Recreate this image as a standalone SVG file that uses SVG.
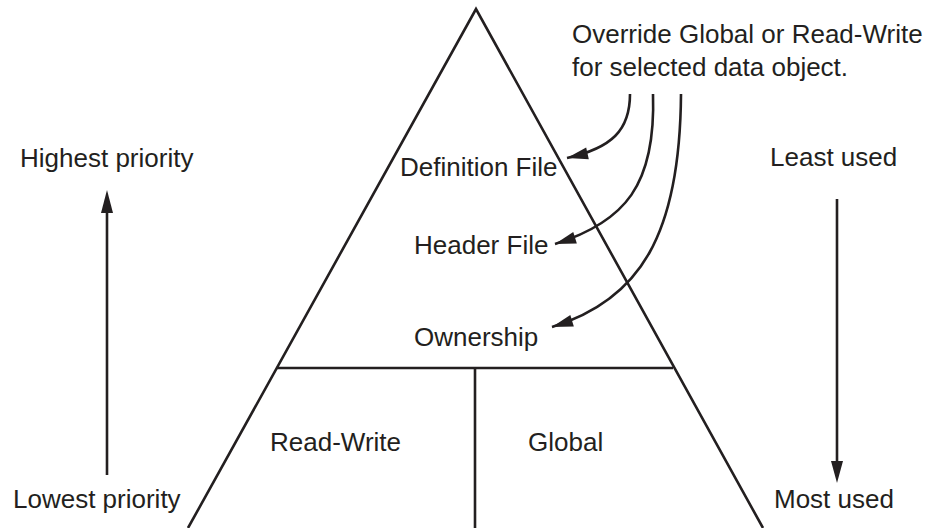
<svg xmlns="http://www.w3.org/2000/svg" width="937" height="528" viewBox="0 0 937 528">
<style>
text{font-family:"Liberation Sans",Arial,sans-serif;font-size:26px;fill:#231f20}
.ln{stroke:#231f20;stroke-width:2.6;fill:none}
.cv{stroke:#231f20;stroke-width:2.6;fill:none;marker-end:url(#ah)}
</style>
<defs>
<marker id="ah" markerUnits="userSpaceOnUse" markerWidth="24" markerHeight="14" viewBox="-22 -7 24 14" refX="0" refY="0" orient="auto">
<path d="M0,0 L-21,-6 L-21,6 Z" fill="#231f20"/>
</marker>
</defs>
<g id="pyramid">
<path class="ln" d="M188,528 L476,9 L763,528"/>
<line class="ln" x1="277" y1="368" x2="673" y2="368"/>
<line class="ln" x1="475" y1="368" x2="475" y2="528"/>
</g>
<g id="definition"><text x="400" y="176">Definition File</text></g>
<g id="header"><text x="414" y="254">Header File</text></g>
<g id="ownership"><text x="414" y="346">Ownership</text></g>
<g id="readwrite"><text x="270" y="451">Read-Write</text></g>
<g id="global"><text x="528" y="451">Global</text></g>
<g id="override"><text x="572" y="43">Override Global or Read-Write</text><text x="572" y="76">for selected data object.</text></g>
<g id="highest"><text x="20" y="167">Highest priority</text></g>
<g id="lowest"><text x="13" y="508">Lowest priority</text></g>
<g id="least"><text x="770" y="166">Least used</text></g>
<g id="most"><text x="774" y="508">Most used</text></g>
<g id="connectors">
<path class="cv" d="M630,94 C630,130 612,148 567,158"/>
<path class="cv" d="M653,94 C656,185 625,222 555,244"/>
<path class="cv" d="M681,94 C680,235 640,300 552,327"/>
<line class="ln" x1="107" y1="475" x2="107" y2="200"/>
<path d="M107,190 L101,213 L113,213 Z" fill="#231f20"/>
<line class="ln" x1="837" y1="199" x2="837" y2="470"/>
<path d="M837,483 L831,461 L843,461 Z" fill="#231f20"/>
</g>
</svg>
